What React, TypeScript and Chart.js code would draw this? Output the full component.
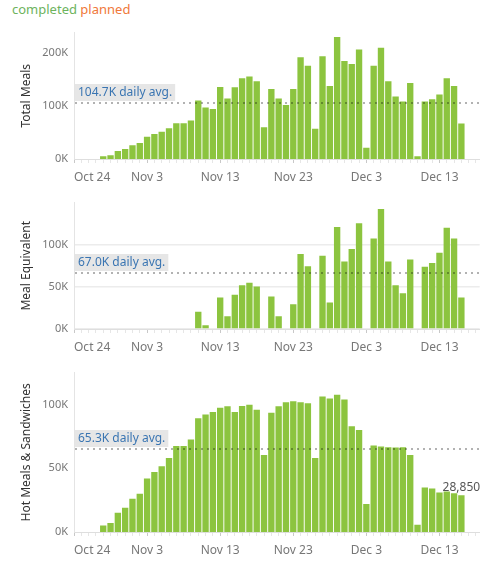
import React, { useEffect, useRef } from 'react';
import { Chart, registerables } from 'chart.js';

Chart.register(...registerables);

// ---------- data ----------
// Day index 0 = Oct 24; values start on Oct 25 (day 1) and run to Dec 16 (day 53)
const firstDay = 1;
const xTickDays = [0, 10, 20, 30, 40, 50];
const xTickLabels = ['Oct 24', 'Nov 3', 'Nov 13', 'Nov 23', 'Dec 3', 'Dec 13'];

// thousands of meals per day
const totalMeals = [
  0, 0, 0, 5, 7, 15, 19, 26, 30, 42, 47, 51.5, 58, 67.5, 67.5, 72.5,
  110, 97, 94, 135.5, 114, 135, 152, 155.5, 146.5, 60, 132, 114, 101.5, 132,
  191.5, 175.5, 57, 193.5, 137.5, 229.5, 184.5, 179, 206, 21, 175.5, 209.5, 146.5,
  117.5, 108.5, 143, 5, 108.5, 112.5, 121.5, 152, 137.5, 67,
];
const mealEquivalent = [
  0, 0, 0, 0, 0, 0, 0, 0, 0, 0, 0, 0, 0, 0, 0, 0,
  20.5, 4.5, 0, 37.5, 15, 40.5, 52, 55, 50.5, 0, 38.5, 15, 0, 29.5,
  89, 74.5, 0, 87, 31.5, 121, 80, 95, 125.5, 0, 107.5, 142.5, 80,
  52, 42.5, 82.5, 0, 74, 78.3, 90.5, 120.2, 107.5, 37.5,
];
const hotMeals = [
  0, 0, 0, 5, 7, 15, 19, 26, 30, 42, 47, 51.5, 58, 67.5, 67.5, 72.5,
  89.2, 92.2, 94.2, 97.5, 98.7, 94.2, 98.9, 99.8, 95.8, 60.4, 93.5, 98.7, 101.7, 102.5,
  101.7, 101, 58.1, 106.2, 104.7, 107.7, 104, 82.9, 79.9, 22, 67.9, 67.1, 66.4,
  66.2, 66.4, 60.4, 5.6, 34.8, 34.1, 31, 31.8, 30.3, 28.85,
];

const avgValues = [104700, 67000, 65300];
const avgLabels = ['104.7K daily avg.', '67.0K daily avg.', '65.3K daily avg.'];
const panelTitles = ['Total Meals', 'Meal Equivalent', 'Hot Meals & Sandwiches'];
const yTickSets = [
  [0, 100000, 200000],
  [0, 50000, 100000],
  [0, 50000, 100000],
];
const lastValueLabel = '28,850';
const legendItems = ['completed', 'planned'];

// ---------- styles ----------
const FONT = '"Noto Sans", "DejaVu Sans", sans-serif';
const GREEN = '#8cc43f';
const W = 483;

type PanelCfg = {
  title: string;
  values: number[];
  avg: number;
  avgLabel: string;
  yMax: number;
  yTicks: number[];
  grid: boolean;
  top: number;
  height: number;
  xh: number;
  showLast: boolean;
};

const panels: PanelCfg[] = [
  { title: panelTitles[0], values: totalMeals, avg: avgValues[0], avgLabel: avgLabels[0], yMax: 238000, yTicks: yTickSets[0], grid: false, top: 20, height: 169, xh: 30, showLast: false },
  { title: panelTitles[1], values: mealEquivalent, avg: avgValues[1], avgLabel: avgLabels[1], yMax: 150000, yTicks: yTickSets[1], grid: true, top: 190, height: 169, xh: 30, showLast: false },
  { title: panelTitles[2], values: hotMeals, avg: avgValues[2], avgLabel: avgLabels[2], yMax: 125000, yTicks: yTickSets[2], grid: false, top: 360, height: 200, xh: 28, showLast: true },
];

function makeConfig(cfg: PanelCfg): any {
  const avgPlugin = {
    id: 'avgLine',
    afterDatasetsDraw(chart: any) {
      const { ctx, chartArea, scales } = chart;
      const py = Math.round(scales.y.getPixelForValue(cfg.avg));
      ctx.save();
      ctx.strokeStyle = 'rgba(0,0,0,0.3)';
      ctx.lineWidth = 2;
      ctx.setLineDash([2, 4]);
      ctx.beginPath();
      ctx.moveTo(chartArea.left + 1, py);
      ctx.lineTo(chartArea.right, py);
      ctx.stroke();
      ctx.setLineDash([]);
      ctx.font = `12px ${FONT}`;
      const w = ctx.measureText(cfg.avgLabel).width;
      ctx.fillStyle = '#e6e6e6';
      ctx.fillRect(chartArea.left + 1, py - 19, w + 6, 17);
      ctx.fillStyle = '#3a75b2';
      ctx.textBaseline = 'middle';
      ctx.textAlign = 'left';
      ctx.fillText(cfg.avgLabel, chartArea.left + 4, py - 10);
      if (cfg.showLast) {
        const meta = chart.getDatasetMeta(0);
        const el = meta.data[meta.data.length - 1];
        ctx.font = `12px ${FONT}`;
        ctx.fillStyle = '#555';
        ctx.textAlign = 'center';
        ctx.textBaseline = 'bottom';
        ctx.fillText(lastValueLabel, el.x, el.y - 2);
      }
      ctx.restore();
    },
  };

  return {
    type: 'bar',
    data: {
      datasets: [
        {
          data: cfg.values.map((v, i) => ({ x: firstDay + i, y: v * 1000 })),
          backgroundColor: GREEN,
          borderWidth: 0,
          barPercentage: 1,
          categoryPercentage: 0.87,
        },
      ],
    },
    options: {
      animation: false,
      responsive: false,
      maintainAspectRatio: false,
      events: [],
      layout: { padding: { top: 7, left: 0, right: 0, bottom: 0 } },
      plugins: { legend: { display: false }, tooltip: { enabled: false } },
      scales: {
        x: {
          type: 'linear',
          min: 0,
          max: 55.5,
          offset: false,
          afterBuildTicks: (s: any) => {
            const t = [];
            for (let d = 0; d <= 55; d++) t.push({ value: d });
            s.ticks = t;
          },
          afterFit: (s: any) => {
            s.height = cfg.xh;
          },
          grid: {
            offset: false,
            drawOnChartArea: false,
            tickLength: 4,
            tickColor: (c: any) => (c.tick && c.tick.value % 10 === 0 ? '#c8c8c8' : '#e6e6e6'),
          },
          border: { color: '#dedede', width: 1 },
          ticks: {
            autoSkip: false,
            maxRotation: 0,
            padding: 7,
            align: 'inner',
            color: '#777',
            font: { family: FONT, size: 12 },
            callback: (v: any) => {
              const k = xTickDays.indexOf(Number(v));
              return k >= 0 ? xTickLabels[k] : '';
            },
          },
        },
        y: {
          min: 0,
          max: cfg.yMax,
          afterBuildTicks: (s: any) => {
            s.ticks = cfg.yTicks.map((v) => ({ value: v }));
          },
          afterFit: (s: any) => {
            s.width = 74;
          },
          grid: { display: cfg.grid, drawTicks: false, color: '#ececec', lineWidth: 1.5 },
          border: { display: true, color: '#e4e4e4', width: 1 },
          ticks: {
            padding: 6,
            color: '#777',
            font: { family: FONT, size: 11 },
            callback: (v: any) => `${Math.round(Number(v) / 1000)}K`,
          },
          title: {
            display: true,
            text: cfg.title,
            color: '#333',
            font: { family: FONT, size: 12 },
            padding: { top: 19, bottom: 0 },
          },
        },
      },
    },
    plugins: [avgPlugin],
  };
}

function Panel({ cfg }: { cfg: PanelCfg }) {
  const ref = useRef<HTMLCanvasElement | null>(null);
  useEffect(() => {
    const chart = new Chart(ref.current as HTMLCanvasElement, makeConfig(cfg));
    return () => chart.destroy();
  }, [cfg]);
  return (
    <canvas
      ref={ref}
      width={W}
      height={cfg.height}
      style={{ position: 'absolute', left: 0, top: cfg.top, width: W, height: cfg.height }}
    />
  );
}

export default function App() {
  return (
    <div style={{ position: 'absolute', left: 0, top: 0, width: W, height: 561, background: '#fff', fontFamily: FONT }}>
      <div style={{ position: 'absolute', left: 12, top: 0, fontSize: 13, lineHeight: '18px', whiteSpace: 'nowrap' }}>
        <span style={{ color: '#6db35d' }}>{legendItems[0]}</span>{' '}
        <span style={{ color: '#f0783a' }}>{legendItems[1]}</span>
      </div>
      {panels.map((p, i) => (
        <Panel key={i} cfg={p} />
      ))}
    </div>
  );
}
